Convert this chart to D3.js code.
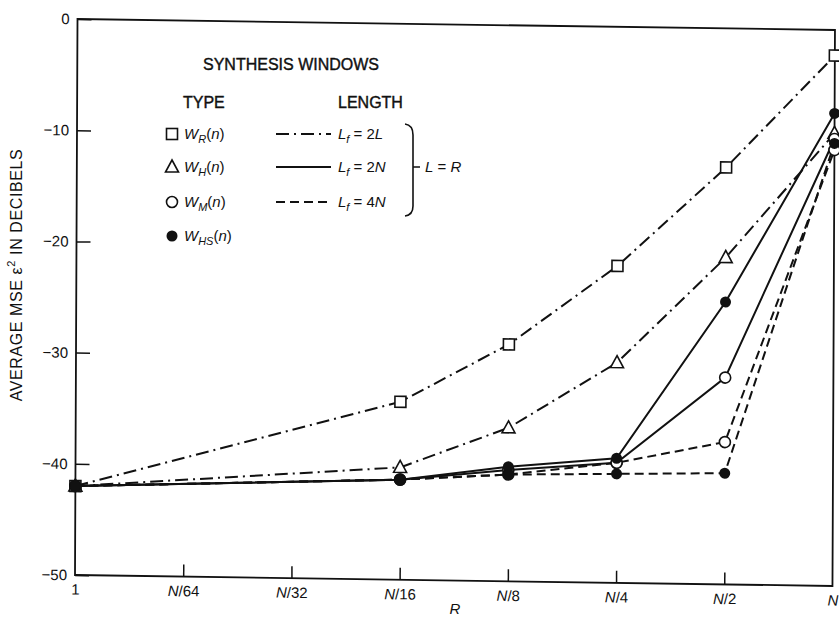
<!DOCTYPE html>
<html><head><meta charset="utf-8">
<script src="https://cdn.jsdelivr.net/npm/d3@7"></script>
<style>
body{margin:0;background:#fff}
svg text{font-family:"Liberation Sans",Arial,sans-serif;fill:#111}
</style>
</head><body>
<svg id="c" width="839" height="622"></svg>
<script>
// ---------- data ----------
const categories = ["1","N/64","N/32","N/16","N/8","N/4","N/2","N"];
const yTicks = [0,-10,-20,-30,-40,-50];
// W_R(n), L_f = 2L (dash-dot)
const wR_2L  = [-42, null, null, -34.0, -28.7, -21.5, -12.5, -2.3];
// W_H(n), L_f = 2L (dash-dot)
const wH_2L  = [-42, null, null, -39.9, -36.2, -30.2, -20.6, -9.3];
// W_HS(n), L_f = 2N (solid)
const wHS_2N = [-42, null, null, -41.0, -39.7, -38.8, -24.6, -7.5];
// W_M(n), L_f = 2N (solid)
const wM_2N  = [-42, null, null, -41.0, -40.0, -39.2, -31.4, -9.8];
// W_M(n), L_f = 4N (dashed)
const wM_4N  = [-42, null, null, -41.0, -40.4, -39.2, -37.2, -10.8];
// W_HS(n), L_f = 4N (dashed)
const wHS_4N = [-42, null, null, -41.0, -40.4, -40.2, -40.0, -10.2];

const series = [
  {values: wR_2L,  marker: "square",   line: "dashdot"},
  {values: wH_2L,  marker: "triangle", line: "dashdot"},
  {values: wM_2N,  marker: "open",     line: "solid"},
  {values: wM_4N,  marker: "open",     line: "dashed"},
  {values: wHS_2N, marker: "filled",   line: "solid"},
  {values: wHS_4N, marker: "filled",   line: "dashed"}
];

// ---------- layout ----------
const W = 758, H = 556;
const dash = {dashdot: "13,5,2,5", solid: null, dashed: "9,5"};
const svg = d3.select("#c");

// the scanned plot frame is slightly skewed
const g = svg.append("g").attr("transform", "matrix(0.9993,0.0145,-0.0045,1,77.5,19)");

const x = d3.scalePoint().domain(categories).range([0, W]).padding(0);
const y = d3.scaleLinear().domain([0, -50]).range([0, H]);

// frame
g.append("rect").attr("x", 0).attr("y", 0).attr("width", W).attr("height", H)
  .attr("fill", "none").attr("stroke", "#111").attr("stroke-width", 1.8);

// y axis (inward ticks)
const ya = g.append("g").call(
  d3.axisLeft(y).tickValues(yTicks).tickSize(-14).tickPadding(8)
    .tickFormat(d => d === 0 ? "0" : "\u2212" + Math.abs(d)));
ya.select(".domain").remove();
ya.selectAll(".tick line").attr("stroke", "#111").attr("stroke-width", 1.5);
ya.selectAll(".tick text").attr("font-size", 15).attr("fill", "#111")
  .style("font-family", "'Liberation Sans', Arial, sans-serif");

// x axis (inward ticks)
const xa = g.append("g").attr("transform", `translate(0,${H})`).call(
  d3.axisBottom(x).tickSize(-12).tickPadding(9));
xa.select(".domain").remove();
xa.selectAll(".tick line").attr("stroke", "#111").attr("stroke-width", 1.5)
  .attr("display", d => (d === "1" || d === "N") ? "none" : null);
xa.selectAll(".tick text").attr("font-size", 15).attr("fill", "#111")
  .style("font-family", "'Liberation Sans', Arial, sans-serif")
  .each(function(d) {
    const t = d3.select(this);
    t.text(null);
    if (d.startsWith("N")) {
      t.append("tspan").attr("font-style", "italic").text("N");
      t.append("tspan").text(d.slice(1));
    } else t.text(d);
  });

// lines
const lineGen = d3.line()
  .defined(d => d.v !== null)
  .x(d => x(d.c)).y(d => y(d.v));
series.forEach(s => {
  const pts = categories.map((c, i) => ({c, v: s.values[i]})).filter(d => d.v !== null);
  g.append("path").datum(pts).attr("d", lineGen)
    .attr("fill", "none").attr("stroke", "#111").attr("stroke-width", 2)
    .attr("stroke-dasharray", dash[s.line]);
});

// markers
function drawMarker(sel, type, cx, cy) {
  if (type === "square") {
    sel.append("rect").attr("x", cx - 5.5).attr("y", cy - 5.5).attr("width", 11).attr("height", 11)
      .attr("fill", "#fff").attr("stroke", "#111").attr("stroke-width", 1.6);
  } else if (type === "triangle") {
    sel.append("path").attr("d", `M${cx},${cy-7}L${cx+6.5},${cy+5}L${cx-6.5},${cy+5}Z`)
      .attr("fill", "#fff").attr("stroke", "#111").attr("stroke-width", 1.6);
  } else if (type === "open") {
    sel.append("circle").attr("cx", cx).attr("cy", cy).attr("r", 5.5)
      .attr("fill", "#fff").attr("stroke", "#111").attr("stroke-width", 1.6);
  } else {
    sel.append("circle").attr("cx", cx).attr("cy", cy).attr("r", 5.5).attr("fill", "#111");
  }
}
const order = ["square", "triangle", "open", "filled"];
order.forEach(m => {
  series.filter(s => s.marker === m).forEach(s => {
    s.values.forEach((v, i) => {
      if (v === null) return;
      drawMarker(g, m, x(categories[i]), y(v));
    });
  });
});

// axis titles
const yl = svg.append("text").attr("transform", "translate(22,275) rotate(-90)")
  .attr("text-anchor", "middle").attr("font-size", 16).attr("letter-spacing", 0.6);
yl.append("tspan").text("AVERAGE MSE \u03B5");
yl.append("tspan").attr("font-size", 11).attr("dy", -7).text("2");
yl.append("tspan").attr("dy", 7).text(" IN DECIBELS");

svg.append("text").attr("x", 455).attr("y", 614).attr("text-anchor", "middle")
  .attr("font-size", 15).attr("font-style", "italic").text("R");

// ---------- legend ----------
const lg = svg.append("g");
const hdr = {stroke: "#111", "stroke-width": 0.4};
lg.append("text").attr("x", 203).attr("y", 70).attr("font-size", 16)
  .attr("stroke", "#111").attr("stroke-width", 0.4).text("SYNTHESIS WINDOWS");
lg.append("text").attr("x", 183).attr("y", 108).attr("font-size", 16)
  .attr("stroke", "#111").attr("stroke-width", 0.4).text("TYPE");
lg.append("text").attr("x", 338).attr("y", 108).attr("font-size", 16)
  .attr("stroke", "#111").attr("stroke-width", 0.4).text("LENGTH");

const legTypes = [
  {marker: "square", sub: "R"},
  {marker: "triangle", sub: "H"},
  {marker: "open", sub: "M"},
  {marker: "filled", sub: "HS"}
];
const legLines = [
  {line: "dashdot", val: "2L"},
  {line: "solid", val: "2N"},
  {line: "dashed", val: "4N"}
];
const rowY = [134, 167, 202, 236];
legTypes.forEach((t, i) => {
  const cy = rowY[i];
  drawMarker(lg, t.marker, 172, cy);
  const tx = lg.append("text").attr("x", 184).attr("y", cy + 5).attr("font-size", 15);
  tx.append("tspan").attr("font-style", "italic").text("W");
  tx.append("tspan").attr("font-style", "italic").attr("font-size", 11).attr("dy", 4).text(t.sub);
  tx.append("tspan").attr("dy", -4).text("(");
  tx.append("tspan").attr("font-style", "italic").text("n");
  tx.append("tspan").text(")");
});
legLines.forEach((l, i) => {
  const cy = rowY[i];
  lg.append("line").attr("x1", 276).attr("x2", 331).attr("y1", cy).attr("y2", cy)
    .attr("stroke", "#111").attr("stroke-width", 2).attr("stroke-dasharray", dash[l.line]);
  const tx = lg.append("text").attr("x", 338).attr("y", cy + 5).attr("font-size", 15);
  tx.append("tspan").attr("font-style", "italic").text("L");
  tx.append("tspan").attr("font-style", "italic").attr("font-size", 11).attr("dy", 4).text("f");
  tx.append("tspan").attr("dy", -4).text(" = " + l.val[0]);
  tx.append("tspan").attr("font-style", "italic").text(l.val.slice(1));
});
// brace
lg.append("path").attr("d", "M405,124 Q413,125 413,135 V206 Q413,215 405,216 M413,167 H420")
  .attr("fill", "none").attr("stroke", "#111").attr("stroke-width", 1.6);
const lr = lg.append("text").attr("x", 425).attr("y", 172).attr("font-size", 15);
lr.append("tspan").attr("font-style", "italic").text("L");
lr.append("tspan").text(" = ");
lr.append("tspan").attr("font-style", "italic").text("R");
</script>
</body></html>
